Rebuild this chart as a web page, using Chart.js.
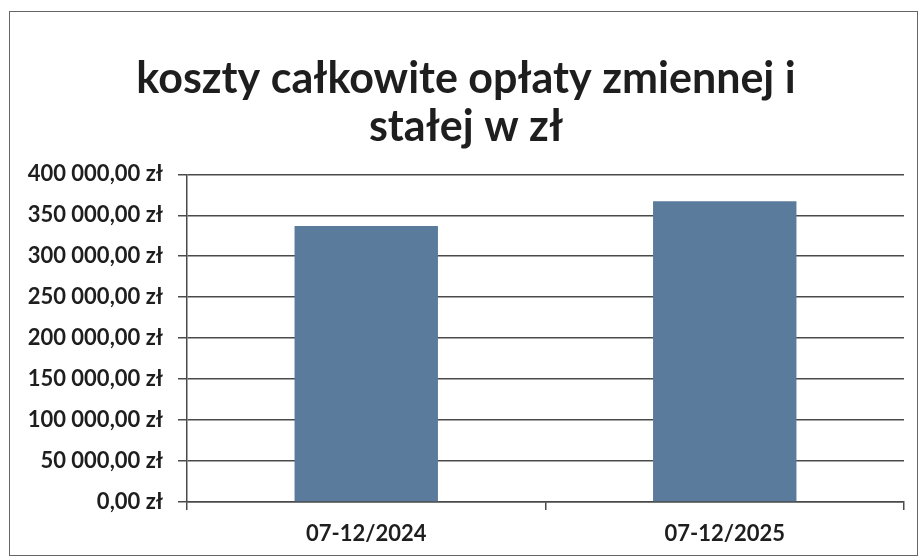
<!DOCTYPE html>
<html>
<head>
<meta charset="utf-8">
<script src="https://cdn.jsdelivr.net/npm/chart.js@4"></script>
<style>
  html, body { margin: 0; padding: 0; background: #fff; }
  #wrap { position: relative; width: 921px; height: 560px; }
  #frame {
    position: absolute; left: 9px; top: 11px; width: 907px; height: 543px;
    border: 1.5px solid #666; pointer-events: none;
  }
</style>
</head>
<body>
<div id="wrap">
  <canvas id="chart" width="921" height="560"></canvas>
  <div id="frame"></div>
</div>
<script>
// data
const categories = ['07-12/2024', '07-12/2025'];
const totalCosts = [337000, 367000];
const titleLines = ['koszty całkowite opłaty zmiennej i', 'stałej w zł'];
const yMin = 0;
const yMax = 400000;
const yStep = 50000;

function formatPln(v) {
    // "400 000,00 zł"
    const whole = Math.round(v).toString().replace(/\B(?=(\d{3})+(?!\d))/g, ' ');
    return whole + ',00 zł';
}

// title in the original sits a bit right of the canvas centre
const shiftTitle = {
    id: 'shiftTitle',
    afterLayout(chart) {
        const t = chart.titleBlock;
        if (t) { t.left += 14; t.right += 14; }
    }
};

const ctx = document.getElementById('chart').getContext('2d');

const chart = new Chart(ctx, {
    type: 'bar',
    data: {
        labels: categories,
        datasets: [{
            label: 'koszty',
            data: totalCosts,
            backgroundColor: '#5b7b9c',
            borderWidth: 0,
            barPercentage: 0.4,
            categoryPercentage: 1.0
        }]
    },
    options: {
        responsive: false,
        animation: false,
        layout: {
            padding: { left: 0, right: 17, top: 0, bottom: 0 }
        },
        plugins: {
            legend: { display: false },
            tooltip: { enabled: false },
            title: {
                display: true,
                text: titleLines,
                color: '#1e1e1e',
                font: { family: 'Lato', size: 43, weight: 'bold', lineHeight: 1.12 },
                padding: { top: 55, bottom: 23 }
            }
        },
        scales: {
            x: {
                grid: {
                    display: true,
                    drawOnChartArea: false,
                    drawTicks: true,
                    tickLength: 8,
                    color: '#4a4a4a',
                    lineWidth: 1.5
                },
                border: { display: true, color: '#4a4a4a', width: 1.5 },
                ticks: {
                    color: '#1e1e1e',
                    font: { family: 'Lato', size: 22, weight: 'bold' },
                    padding: 11
                },
                afterFit: (scale) => { scale.height = 58; }
            },
            y: {
                min: yMin,
                max: yMax,
                ticks: {
                    stepSize: yStep,
                    color: '#1e1e1e',
                    font: { family: 'Lato', size: 22, weight: 'bold' },
                    padding: 15,
                    callback: (value) => formatPln(value)
                },
                grid: {
                    color: '#4a4a4a',
                    lineWidth: 1.5,
                    tickLength: 9
                },
                border: { display: true, color: '#4a4a4a', width: 1.5 },
                afterFit: (scale) => { scale.width = 187; }
            }
        }
    },
    plugins: [shiftTitle]
});
</script>
</body>
</html>
